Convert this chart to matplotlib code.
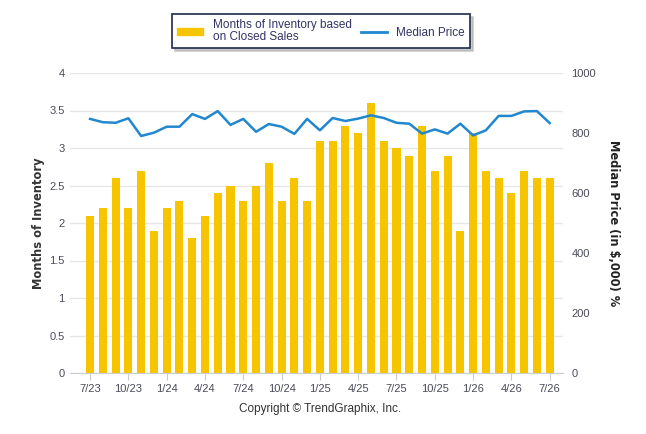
import matplotlib.pyplot as plt
from matplotlib.patches import Patch
from matplotlib.lines import Line2D

plt.rcParams['font.family'] = ['Liberation Sans', 'DejaVu Sans']

# months 7/23 .. 7/26
months = ['7/23', '8/23', '9/23', '10/23', '11/23', '12/23', '1/24', '2/24', '3/24',
          '4/24', '5/24', '6/24', '7/24', '8/24', '9/24', '10/24', '11/24', '12/24',
          '1/25', '2/25', '3/25', '4/25', '5/25', '6/25', '7/25', '8/25', '9/25',
          '10/25', '11/25', '12/25', '1/26', '2/26', '3/26', '4/26', '5/26', '6/26', '7/26']
inventory = [2.1, 2.2, 2.6, 2.2, 2.7, 1.9, 2.2, 2.3, 1.8, 2.1, 2.4, 2.5, 2.3, 2.5, 2.8,
             2.3, 2.6, 2.3, 3.1, 3.1, 3.3, 3.2, 3.6, 3.1, 3.0, 2.9, 3.3, 2.7, 2.9, 1.9,
             3.2, 2.7, 2.6, 2.4, 2.7, 2.6, 2.6]
median_price = [847, 836, 834, 849, 790, 801, 821, 821, 863, 847, 873, 827, 847, 804, 830,
                821, 797, 847, 809, 850, 840, 848, 859, 850, 834, 831, 798, 812, 798, 831,
                792, 809, 857, 857, 872, 873, 833]

bar_color = '#F7C500'
line_color = '#2188D0'
text_color = '#4A4A5A'

fig = plt.figure(figsize=(6.46, 4.34), dpi=100)
ax = fig.add_axes([70 / 646, 1 - 373 / 434, (563 - 70) / 646, 300 / 434])
ax2 = ax.twinx()

x = list(range(len(months)))
ax.bar(x, inventory, width=0.63, color=bar_color, zorder=2)
ax2.plot(x, median_price, color=line_color, lw=1.8, solid_joinstyle='round', zorder=3)

ax.set_ylim(0, 4)
ax.set_yticks([0, 0.5, 1, 1.5, 2, 2.5, 3, 3.5, 4])
ax.set_yticklabels(['0', '0.5', '1', '1.5', '2', '2.5', '3', '3.5', '4'])
ax2.set_ylim(0, 1000)
ax2.set_yticks([0, 200, 400, 600, 800, 1000])
ax.set_xlim(-1.57, 37.04)

ax.set_xticks(x[::3])
ax.set_xticklabels(months[::3])

ax.grid(axis='y', color='#E6E6E6', lw=1, zorder=0)
for a in (ax, ax2):
    for s in a.spines.values():
        s.set_visible(False)
    a.tick_params(labelsize=8, labelcolor=text_color)
ax.spines['bottom'].set_visible(True)
ax.spines['bottom'].set_color('#CCCCCC')
ax.tick_params(axis='y', length=0, pad=4)
ax2.tick_params(axis='y', length=0, pad=6)
ax.tick_params(axis='x', length=5, color='#CCCCCC', pad=3)

ax.set_ylabel('Months of Inventory', fontsize=8.3, fontweight='bold', color='#333333',
              family='DejaVu Sans', labelpad=3)
ax2.set_ylabel('Median Price (in $,000) %', fontsize=8.3, fontweight='bold', color='#222222',
               family='DejaVu Sans', rotation=270, labelpad=17)

handles = [Patch(color=bar_color), Line2D([], [], color=line_color, lw=2)]
labels = ['Months of Inventory based\non Closed Sales', 'Median Price']
leg = fig.legend(handles, labels, loc='center', bbox_to_anchor=(321 / 646, 1 - 31 / 434),
                 ncol=2, fontsize=8.5, frameon=True, fancybox=False,
                 shadow={'color': '#AAAAAA', 'alpha': 0.6},
                 handlelength=2.2, handleheight=0.6, columnspacing=0.8, borderpad=0.45,
                 labelspacing=0.1)
leg.get_frame().set_edgecolor('#1C2A4A')
leg.get_frame().set_linewidth(1.2)
for t in leg.get_texts():
    t.set_color('#333366')
    t.set_linespacing(0.95)

fig.text(320 / 646, 1 - 409 / 434, 'Copyright \u00a9 TrendGraphix, Inc.', ha='center', va='center',
         fontsize=8.5, color='#333333')

fig.savefig('out.png', dpi=100)
